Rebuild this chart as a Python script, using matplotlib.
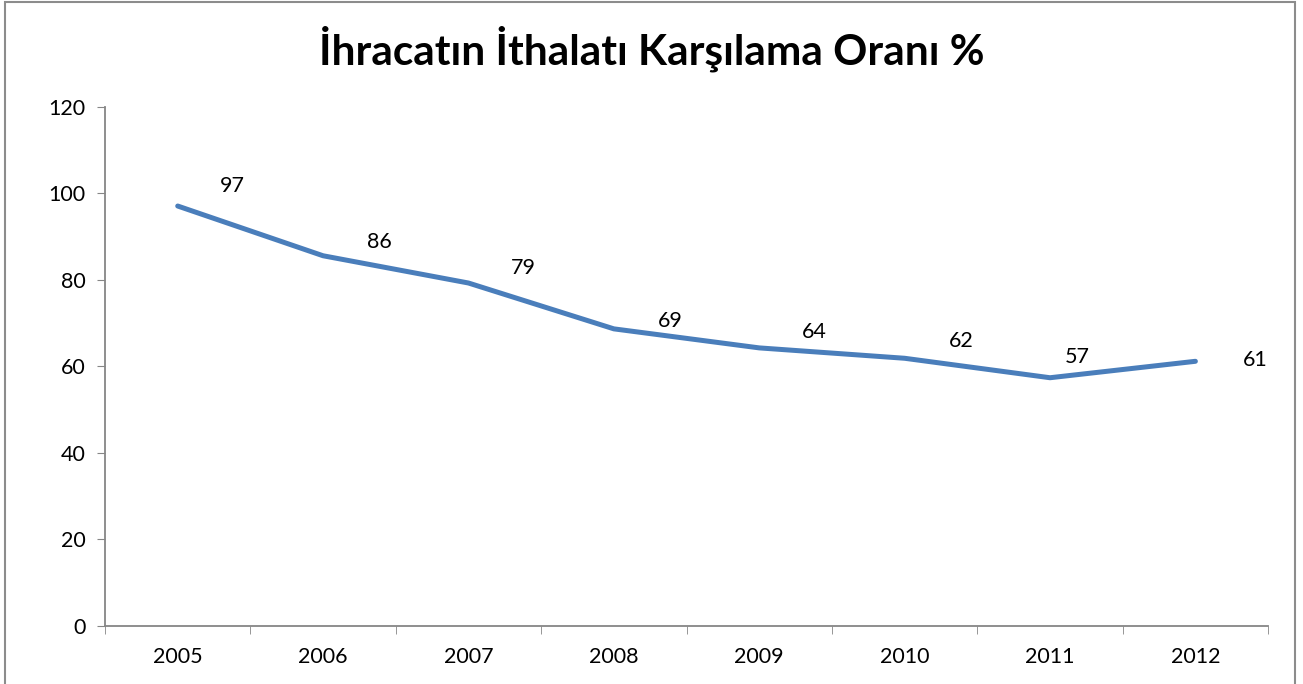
import matplotlib
matplotlib.use("Agg")
import matplotlib.pyplot as plt
import numpy as np
from matplotlib.patches import Rectangle

# veriler
years = ["2005", "2006", "2007", "2008", "2009", "2010", "2011", "2012"]
oran = [97.1, 85.6, 79.3, 68.7, 64.3, 61.9, 57.4, 61.2]
etiketler = ["97", "86", "79", "69", "64", "62", "57", "61"]
# etiket kaydirma (piksel)
etiket_dx = [55, 56, 55, 56, 55, 57, 27, 60]
etiket_dy = [20, 14, 15, 8, 16, 17, 21, 1]

plt.rcParams['font.family'] = ['Lato', 'DejaVu Sans']

fig = plt.figure(figsize=(13.03, 6.84), dpi=100)
ax = fig.add_axes([0.0806, 0.0848, 0.8926, 0.7588])

x = np.arange(len(years))
ax.plot(x, oran, color='#4A7EBB', linewidth=3.6, solid_capstyle='round', solid_joinstyle='round')

for i in range(len(years)):
    ax.annotate(etiketler[i], (x[i], oran[i]), xytext=(etiket_dx[i] * 0.72, etiket_dy[i] * 0.72),
                textcoords='offset points', ha='center', va='center', fontsize=15.5)

ax.set_xlim(-0.5, len(years) - 0.5)
ax.set_ylim(0, 120)
ax.set_yticks(range(0, 121, 20))
ax.tick_params(axis='y', direction='out', length=6, color='#868686', labelsize=15.5, pad=8)

ax.set_xticks(x)
ax.set_xticklabels(years, fontsize=15.5)
ax.set_xticks(np.arange(-0.5, len(years), 1), minor=True)
ax.tick_params(axis='x', which='major', length=0, pad=15)
ax.tick_params(axis='x', which='minor', direction='out', length=6, color='#868686')

for s in ['top', 'right']:
    ax.spines[s].set_visible(False)
for s in ['left', 'bottom']:
    ax.spines[s].set_color('#868686')
    ax.spines[s].set_linewidth(1.3)

fig.text(0.5, 0.928, "İhracatın İthalatı Karşılama Oranı %", ha='center', va='center',
         fontsize=30.5, fontweight='bold')

fig.patches.append(Rectangle((5 / 1303, -0.05), 1290 / 1303, 1.047, transform=fig.transFigure,
                             fill=False, edgecolor='#8c8c8c', linewidth=1.5))

plt.savefig('out.png', dpi=100)
